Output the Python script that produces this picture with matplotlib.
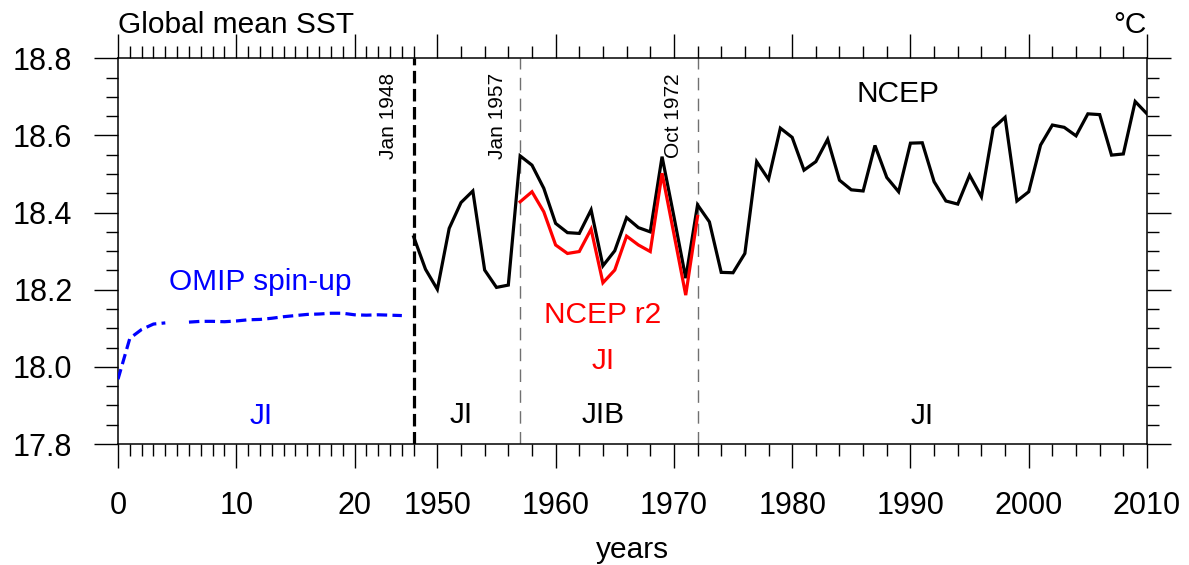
import numpy as np
import matplotlib
matplotlib.use("Agg")
import matplotlib.pyplot as plt
from matplotlib.ticker import FixedLocator

plt.rcParams['font.family'] = ['Liberation Sans', 'DejaVu Sans']
plt.rcParams['lines.scale_dashes'] = False

# ---------------- data ----------------
# OMIP spin-up (years 0..24; year 5 missing)
spinup_years = list(range(0, 25))
spinup_sst = [17.968, 18.074, 18.097, 18.111, 18.114, np.nan, 18.116, 18.118,
              18.118, 18.117, 18.119, 18.122, 18.123, 18.126, 18.130, 18.133,
              18.136, 18.137, 18.139, 18.139, 18.135, 18.134, 18.135, 18.134,
              18.133]

# NCEP forced run, 1948-2010
ncep_years = list(range(1948, 2011))
ncep_sst = [18.337, 18.253, 18.201, 18.359, 18.426, 18.456, 18.251, 18.206,
            18.212, 18.547, 18.523, 18.463, 18.372, 18.348, 18.346, 18.407,
            18.262, 18.301, 18.387, 18.361, 18.350, 18.545, 18.390, 18.230,
            18.420, 18.376, 18.245, 18.244, 18.294, 18.532, 18.486, 18.619,
            18.595, 18.510, 18.532, 18.590, 18.484, 18.459, 18.456, 18.574,
            18.491, 18.454, 18.580, 18.581, 18.480, 18.430, 18.422, 18.497,
            18.441, 18.619, 18.647, 18.430, 18.454, 18.575, 18.627, 18.621,
            18.599, 18.656, 18.654, 18.549, 18.552, 18.688, 18.656]

# NCEP r2 branch, 1957-1972
r2_years = list(range(1957, 1973))
r2_sst = [18.428, 18.454, 18.402, 18.316, 18.294, 18.299, 18.357, 18.218,
          18.251, 18.339, 18.316, 18.299, 18.502, 18.345, 18.186, 18.390]

spinup_origin = 1923  # spin-up year 0 placed 25 years before Jan 1948
xtick_pos = [1923, 1933, 1943, 1950, 1960, 1970, 1980, 1990, 2000, 2010]
xtick_labels = ["0", "10", "20", "1950", "1960", "1970", "1980", "1990", "2000", "2010"]
ytick_pos = [17.8, 18.0, 18.2, 18.4, 18.6, 18.8]
ytick_labels = ["17.8", "18.0", "18.2", "18.4", "18.6", "18.8"]

# ---------------- figure ----------------
fig = plt.figure(figsize=(11.89, 5.65), dpi=100)
ax = fig.add_axes([118/1189, 1-444/565, (1147-118)/1189, (444-58.3)/565])

FS = 21.5
TFS = 22

x_spin = [spinup_origin + y for y in spinup_years]
ax.plot(x_spin, spinup_sst, color='#0000ff', lw=2.3, dashes=(7.5, 3.8), zorder=3)
ax.plot(ncep_years, ncep_sst, color='black', lw=2.3, zorder=4,
        solid_joinstyle='miter')
ax.plot(r2_years, r2_sst, color='#ff0000', lw=2.3, zorder=5,
        solid_joinstyle='miter')

# vertical markers
ax.axvline(1948, color='black', lw=2.3, dashes=(9, 4), zorder=6)
ax.axvline(1957, color='#707070', lw=1.0, dashes=(9, 6), zorder=2)
ax.axvline(1972, color='#707070', lw=1.0, dashes=(9, 6), zorder=2)

ax.text(1946.69, 18.762, "Jan 1948", rotation=90, ha='right', va='top', fontsize=15)
ax.text(1955.9, 18.762, "Jan 1957", rotation=90, ha='right', va='top', fontsize=15)
ax.text(1970.76, 18.762, "Oct 1972", rotation=90, ha='right', va='top', fontsize=15)

ax.text(1935.0, 18.199, "OMIP spin-up", color='#0000ff', ha='center', va='baseline', fontsize=FS)
ax.text(1935.1, 17.852, "JI", color='#0000ff', ha='center', va='baseline', fontsize=FS)
ax.text(1952.0, 17.854, "JI", color='black', ha='center', va='baseline', fontsize=FS)
ax.text(1964.0, 17.854, "JIB", color='black', ha='center', va='baseline', fontsize=FS)
ax.text(1991.0, 17.852, "JI", color='black', ha='center', va='baseline', fontsize=FS)
ax.text(1988.93, 18.6875, "NCEP", color='black', ha='center', va='baseline', fontsize=FS)
ax.text(1964.0, 18.113, "NCEP r2", color='#ff0000', ha='center', va='baseline', fontsize=FS)
ax.text(1964.0, 17.995, "JI", color='#ff0000', ha='center', va='baseline', fontsize=FS)

ax.text(0.0, 1.0656, "Global mean SST", transform=ax.transAxes, ha='left',
        va='baseline', fontsize=FS)
ax.text(1.0, 1.0656, "°C", transform=ax.transAxes, ha='right',
        va='baseline', fontsize=FS)

ax.set_xlim(1923, 2010)
ax.set_ylim(17.8, 18.8)

ax.xaxis.set_major_locator(FixedLocator(xtick_pos))
ax.set_xticklabels(xtick_labels)
minor_x = [spinup_origin + i for i in range(0, 26)] + list(range(1948, 2011, 2))
ax.xaxis.set_minor_locator(FixedLocator(sorted(set(minor_x) - set(xtick_pos))))
ax.yaxis.set_major_locator(FixedLocator(ytick_pos))
ax.set_yticklabels(ytick_labels)
ax.yaxis.set_minor_locator(FixedLocator([round(17.8 + 0.05*i, 2) for i in range(21)]))

ax.tick_params(which='both', direction='out', top=True, right=True,
               labeltop=False, labelright=False, width=1.0, labelsize=TFS)
ax.tick_params(axis='x', which='major', length=17.5, pad=16.5)
ax.tick_params(axis='x', which='minor', length=8.6)
ax.tick_params(axis='y', which='major', length=17.3, pad=15.5)
ax.tick_params(axis='y', which='minor', length=8.6)

for s in ax.spines.values():
    s.set_linewidth(1.1)

ax.set_xlabel("years", fontsize=FS, labelpad=11)

fig.savefig("out.png", dpi=100)
